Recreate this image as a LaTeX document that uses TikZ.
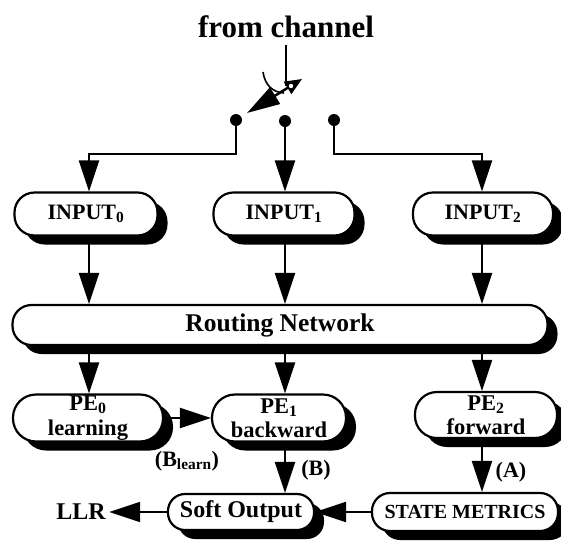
\documentclass[tikz,border=0pt]{standalone}
\usepackage{fontspec}
\setmainfont{Liberation Serif}
\usetikzlibrary{arrows.meta,shadows}
\begin{document}
\begin{tikzpicture}[x=1pt,y=-1pt,
  box/.style={draw, line width=2.2pt, fill=white, inner sep=0pt, align=center,
    drop shadow={shadow xshift=10pt, shadow yshift=-9pt, fill=black, opacity=1}},
  flow/.style={line width=2.2pt, -{Triangle[length=31pt,width=20pt]}},
  wire/.style={line width=2.2pt},
  dot/.style={circle, fill=black, inner sep=0pt, minimum size=12pt},
  fnt/.style={font=\fontsize{#1}{#1}\selectfont\bfseries},
  twoline/.style={font=\fontsize{22.5}{24.5}\selectfont\bfseries}]
\useasboundingbox (0,0) rectangle (561,541);

% channel input and the selector switch
\node[fnt=31] (fc) at (286,27) {from channel};
\coordinate (top) at (286,45);
\coordinate (piv) at (286,86);
\coordinate (armtail) at (302,79);
\coordinate (armtip) at (247,113);
\node[dot] (d0) at (236,120) {};
\node[dot] (d1) at (285,121) {};
\node[dot] (d2) at (334,120) {};
\coordinate (j0) at (89,154);
\coordinate (j2) at (482,154);

\draw[wire] (top) -- (piv);
\draw[line width=1.6pt] (263,72) .. controls (265,85) and (272,92) .. (284,93);
\draw[line width=2.5pt, {Triangle[length=17pt,width=14pt]}-{Triangle[length=33pt,width=19pt]}] (armtail) -- (armtip);
\fill[white] (291,86) circle (2.2pt);

% input buffers
\node[box, fnt=22, rounded corners=20pt, minimum width=143pt, minimum height=43pt] (in0) at (86,214) {INPUT\textsubscript{0}};
\node[box, fnt=22, rounded corners=20pt, minimum width=141pt, minimum height=43pt] (in1) at (284,214) {INPUT\textsubscript{1}};
\node[box, fnt=22, rounded corners=20pt, minimum width=140pt, minimum height=43pt] (in2) at (483,214) {INPUT\textsubscript{2}};

% routing network
\node[box, fnt=25.5, rounded corners=19pt, minimum width=535pt, minimum height=40pt] (routing) at (280,325) {Routing Network};

% processing elements
\node[box, twoline, rounded corners=23pt, minimum width=150pt, minimum height=47pt] (pe0) at (88,418) {PE\textsubscript{0}\\learning};
\node[box, twoline, rounded corners=23pt, minimum width=134pt, minimum height=47pt] (pe1) at (279,418) {PE\textsubscript{1}\\backward};
\node[box, twoline, rounded corners=22pt, minimum width=142pt, minimum height=46pt] (pe2) at (486,415) {PE\textsubscript{2}\\forward};

% output stage
\node[box, fnt=24, rounded corners=17pt, minimum width=146pt, minimum height=36pt] (soft) at (241,512) {Soft Output};
\node[box, fnt=20, rounded corners=18pt, minimum width=186pt, minimum height=38pt] (sm) at (465,512) {STATE METRICS};
\node[fnt=24] (llr) at (81,512) {LLR};

% bus labels
\node[fnt=22] (lbl) at (187,461) {(B\textsubscript{learn})};
\node[fnt=22] (lb) at (316,470) {(B)};
\node[fnt=22] (la) at (511,472) {(A)};

% connections
\draw[flow] (d0.center) |- (j0) -- (in0.north -| j0);
\draw[flow] (d1.center) -- (in1.north -| d1);
\draw[flow] (d2.center) |- (j2) -- (in2.north -| j2);

\draw[flow] (in0.south -| j0) -- (routing.north -| j0);
\draw[flow] (in1.south -| d1) -- (routing.north -| d1);
\draw[flow] (in2.south -| j2) -- (routing.north -| j2);

\draw[flow] (routing.south -| j0) -- (pe0.north -| j0);
\draw[flow] (routing.south -| d1) -- (pe1.north -| d1);
\draw[flow] (routing.south -| j2) -- (pe2.north -| j2);

\draw[flow] (pe0.east) -- (pe1.west);
\draw[flow] (pe1.south -| d1) -- (soft.north -| d1);
\draw[flow] (pe2.south -| j2) -- (sm.north -| j2);
\draw[flow] (sm.west) -- (soft.east);
\draw[flow] (soft.west) -- (llr.east);
\end{tikzpicture}
\end{document}
